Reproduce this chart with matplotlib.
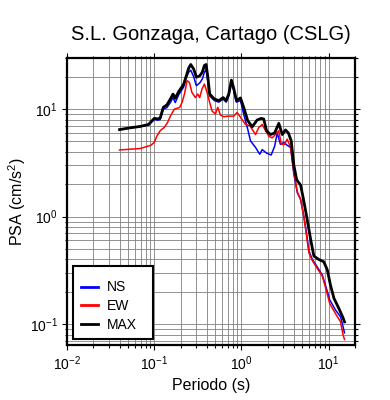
import matplotlib

matplotlib.use("Agg")
import matplotlib.pyplot as plt
from matplotlib.patches import Rectangle

# periods (s) and PSA (cm/s^2)
t_max = [0.04, 0.053, 0.069, 0.086, 0.10, 0.111, 0.117, 0.127, 0.139, 0.153,
         0.164, 0.174, 0.19, 0.217, 0.233, 0.248, 0.262, 0.283, 0.304, 0.332,
         0.355, 0.376, 0.393, 0.41, 0.432, 0.49, 0.55, 0.616, 0.667, 0.715,
         0.767, 0.816, 0.876, 0.974, 1.06, 1.18, 1.33, 1.51, 1.68, 1.8,
         1.94, 2.15, 2.4, 2.68, 2.94, 3.2, 3.45, 3.72, 3.99, 4.3,
         4.77, 5.1, 5.6, 6.2, 6.77, 7.7, 8.8, 9.65, 10.5, 11.5,
         13.1, 14.6, 15.2]
psa_max = [6.45, 6.7, 6.9, 7.2, 8.2, 8.1, 8.3, 10.4, 10.9, 12.4,
           13.8, 12.6, 14.5, 17.0, 20.4, 24.0, 26.0, 23.6, 19.8, 20.4,
           22.0, 25.5, 26.0, 20.4, 13.8, 12.4, 12.0, 12.8, 12.0, 13.8,
           18.6, 15.6, 12.0, 12.7, 10.4, 7.8, 6.85, 7.9, 8.2, 8.1,
           6.3, 5.8, 6.0, 7.37, 5.8, 6.4, 6.0, 5.07, 3.0, 2.2,
           1.96, 1.5, 1.0, 0.62, 0.43, 0.40, 0.38, 0.32, 0.23, 0.174,
           0.14, 0.115, 0.105]

t_ns = [0.04, 0.053, 0.069, 0.086, 0.10, 0.111, 0.117, 0.127, 0.139, 0.153,
        0.164, 0.174, 0.19, 0.217, 0.233, 0.248, 0.262, 0.283, 0.304, 0.332,
        0.355, 0.376, 0.393, 0.41, 0.432, 0.49, 0.55, 0.616, 0.667, 0.715,
        0.767, 0.816, 0.876, 0.974, 1.06, 1.18, 1.27, 1.45, 1.62, 1.73,
        1.94, 2.19, 2.4, 2.57, 2.8, 3.06, 3.35, 3.66, 3.99, 4.37,
        4.77, 5.2, 5.5, 5.94, 6.5, 7.4, 8.45, 9.2, 10.3, 12.0,
        13.7, 14.6, 15.2]
psa_ns = [6.45, 6.7, 6.9, 7.1, 8.0, 7.9, 8.0, 10.0, 10.3, 11.5,
          12.8, 11.5, 13.5, 16.0, 19.5, 22.0, 23.0, 20.0, 16.5, 17.5,
          19.0, 22.0, 23.5, 18.5, 13.2, 12.0, 11.6, 12.4, 11.6, 13.2,
          17.5, 14.8, 11.6, 12.0, 9.0, 6.5, 5.06, 4.4, 3.8, 4.2,
          3.9, 3.74, 4.5, 6.0, 4.7, 4.9, 4.6, 4.4, 2.47, 1.67,
          1.44, 1.0, 0.75, 0.48, 0.40, 0.34, 0.287, 0.23, 0.168, 0.135,
          0.117, 0.095, 0.083]

t_ew = [0.04, 0.069, 0.091, 0.10, 0.107, 0.117, 0.13, 0.142, 0.153, 0.17,
        0.185, 0.196, 0.208, 0.222, 0.238, 0.253, 0.27, 0.296, 0.315, 0.332,
        0.353, 0.376, 0.403, 0.432, 0.46, 0.503, 0.534, 0.574, 0.626, 0.7,
        0.816, 0.89, 0.974, 1.11, 1.25, 1.45, 1.58, 1.73, 1.89, 2.06,
        2.25, 2.45, 2.68, 2.86, 3.1, 3.35, 3.66, 3.99, 4.37, 4.77,
        5.2, 5.5, 5.94, 6.5, 7.4, 8.45, 9.2, 10.3, 12.0, 13.7,
        14.6, 15.2]
psa_ew = [4.17, 4.3, 4.6, 4.9, 5.6, 6.3, 6.75, 7.5, 8.6, 10.0,
          10.2, 10.4, 11.5, 13.8, 18.4, 17.7, 14.3, 12.8, 13.8, 12.8,
          15.4, 17.1, 14.3, 11.5, 9.6, 9.0, 10.4, 8.8, 8.5, 8.6,
          8.6, 9.3, 8.4, 7.2, 7.0, 5.8, 6.75, 7.2, 6.3, 5.6,
          5.4, 5.8, 6.3, 4.7, 4.7, 5.25, 4.4, 2.6, 1.7, 1.45,
          1.0, 0.72, 0.46, 0.39, 0.33, 0.28, 0.22, 0.155, 0.125, 0.105,
          0.08, 0.072]

plt.rcParams["font.family"] = ["Liberation Sans", "DejaVu Sans"]
plt.rcParams["mathtext.fontset"] = "custom"
plt.rcParams["mathtext.rm"] = "Liberation Sans"
plt.rcParams["mathtext.it"] = "Liberation Sans:italic"

fig = plt.figure(figsize=(3.9, 4.0), dpi=100)
ax = fig.add_axes([0.172, 0.1375, 0.738, 0.718])

ax.plot(t_ns, psa_ns, color="#0000ff", lw=1.1, label="NS", zorder=3)
ax.plot(t_ew, psa_ew, color="#ff0000", lw=1.1, label="EW", zorder=3)
ax.plot(t_max, psa_max, color="black", lw=2.0, label="MAX", zorder=4)

ax.set_xscale("log")
ax.set_yscale("log")
ax.set_xlim(0.01, 20)
ax.set_ylim(0.064, 30)

ax.grid(True, which="both", color="0.5", lw=0.6)
ax.tick_params(which="both", direction="out", top=True, right=True,
               labelsize=10, width=0.8, color="black", pad=3)
ax.tick_params(which="major", length=3.6)
ax.tick_params(which="minor", length=1.8)
for sp in ax.spines.values():
    sp.set_linewidth(1.6)

ax.set_title("S.L. Gonzaga, Cartago (CSLG)", fontsize=14.5, pad=13)
ax.set_xlabel("Periodo (s)", fontsize=11.5, labelpad=4)
ax.set_ylabel("PSA (cm/s$^2$)", fontsize=11.5, labelpad=1.5)

# legend box drawn separately so its size matches the reference
ax.add_patch(Rectangle((0.021, 0.021), 0.278, 0.255, transform=ax.transAxes,
                       facecolor="white", edgecolor="black", lw=1.5, zorder=5))
leg = ax.legend(loc="upper left", bbox_to_anchor=(0.05, 0.225), fontsize=10,
                frameon=False, handlelength=1.2, handletextpad=0.6,
                labelspacing=0.35, borderpad=0, borderaxespad=0)
leg.set_zorder(6)
for line in leg.get_lines():
    line.set_linewidth(2.0)

fig.savefig("out.png", dpi=100)
